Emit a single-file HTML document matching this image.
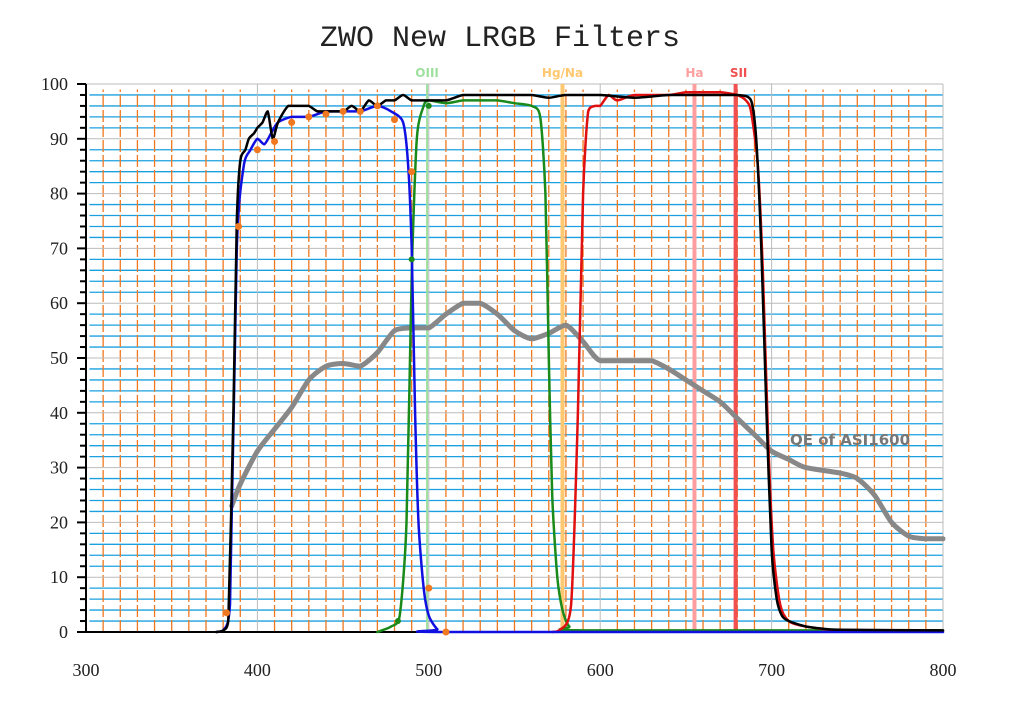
<!DOCTYPE html>
<html><head><meta charset="utf-8"><style>
body{margin:0;background:#fff;width:1024px;height:720px;overflow:hidden}
svg{display:block}
</style></head><body>
<svg id="chart" width="1024" height="720" xmlns="http://www.w3.org/2000/svg">
<text x="500" y="46" text-anchor="middle" font-family="Liberation Mono, monospace" font-size="30" fill="#222">ZWO New LRGB Filters</text>
<g id="grid"></g>
<g id="axes"></g>
<g id="series"></g>
</svg>
<script>
const xTicks=[300,400,500,600,700,800];
const yTicks=[0,10,20,30,40,50,60,70,80,90,100];
const blackX=[376,380,383,386,388,390,393,395,398,400,403,406,409,412,418,425,430,435,440,450,455,460,465,470,475,480,485,490,495,500,510,520,530,540,550,560,570,580,600,620,640,660,680,688,691,694,697,700,703,706,710,720,730,740,800];
const blackY=[0,0.3,2,40,75,86,88,90,91,92,93,95,90,93,96,96,96,95,95,95,96,95,97,96,97,97,98,97,97,97,97,98,98,98,98,98,97.5,98,98,97.5,98,98,98,97,90,70,40,15,6,3,2,1,0.6,0.4,0.3];
const blueX=[376,380,384,388,392,396,400,404,408,412,420,430,440,450,460,470,478,485,488,490,492,494,497,500,505,510,800];
const blueY=[0,0.3,5,70,85,88,90,89,91,93,94,94,95,95,95,96,95,93,85,70,40,20,8,3,0.5,0,0];
const dotX=[382,389,400,410,420,430,440,450,460,470,480,490,500,510];
const dotY=[3.5,74,88,89.5,93,94,94.5,95,95,96,93.5,84,8,0];
const greenX=[470,478,483,487,490,493,497,500,510,520,530,540,550,560,565,568,570,572,575,578,582,590,800];
const greenY=[0,1,3,20,65,90,96,97,96.5,97,97,97,96.5,96,94,80,50,25,10,4,1,0.3,0.3];
const gdotX=[482,490,500];
const gdotY=[2,68,96];
const redX=[572,576,583,587,590,593,597,600,605,610,620,640,650,660,670,680,685,688,692,695,698,701,705,710,720,740,800];
const redY=[0,0.3,5,40,80,95,96,96,98,97,98,98,98.5,98.5,98.5,98,97,95,85,65,35,15,5,2,1,0.3,0.2];
const qeX=[385,390,400,410,420,430,440,450,460,470,480,490,500,510,520,530,540,550,560,570,580,590,600,620,630,640,650,660,670,680,690,700,710,720,740,750,760,770,780,790,800];
const qeY=[23,27,33,37,41,46,48.5,49,48.5,51,55,55.5,55.5,58,60,60,58,55,53.5,54.5,56,53,49.5,49.5,49.5,48,46,44,42,39,36,33,31.5,30,29,28,25,20,17.5,17,17];
const lineNames=["OIII","Hg/Na","Ha","SII"];
const lineNm=[499,578,655,679];
const lineColors=["#9ee09e","#ffc870","#ff9e9e","#f05050"];

const NS="http://www.w3.org/2000/svg";
const X=v=>86+(v-300)*1.714;
const Y=v=>632-v*5.48;
function mk(t,a,p){const e=document.createElementNS(NS,t);for(const k in a)e.setAttribute(k,a[k]);p.appendChild(e);return e;}
const grid=document.getElementById('grid'),axes=document.getElementById('axes'),ser=document.getElementById('series');
for(let v=2;v<100;v+=2){if(v%10==0)continue;const l=mk('line',{x1:X(302),x2:X(800),y1:Y(v),y2:Y(v),stroke:'#1aa0e0','stroke-width':1.3},grid);}
for(let v=310;v<800;v+=10){if(v%100==0)continue;const l=mk('line',{x1:X(v),x2:X(v),y1:Y(0),y2:Y(99),stroke:'#f07820','stroke-width':1.3,'stroke-dasharray':'12 3'},grid);}
for(let v=10;v<=100;v+=10){const l=mk('line',{x1:X(300),x2:X(800),y1:Y(v),y2:Y(v),stroke:'#bbb','stroke-width':1},grid);}
for(let v=400;v<=800;v+=100){const l=mk('line',{x1:X(v),x2:X(v),y1:Y(0),y2:Y(100),stroke:'#bbb','stroke-width':1},grid);}
mk('line',{x1:X(300),x2:X(300),y1:Y(0),y2:Y(100),stroke:'#000','stroke-width':2},axes);
mk('line',{x1:X(300),x2:X(800),y1:Y(0),y2:Y(0),stroke:'#000','stroke-width':2},axes);
for(let v=0;v<=100;v+=2){mk('line',{x1:X(300)-(v%10==0?9:6),x2:X(300),y1:Y(v),y2:Y(v),stroke:'#000','stroke-width':2},axes);}
yTicks.forEach(v=>{const t=mk('text',{x:68,y:Y(v)+6,'text-anchor':'end','font-family':'Liberation Serif, serif','font-size':18,fill:'#222'},axes);t.textContent=v;});
xTicks.forEach(v=>{const t=mk('text',{x:X(v),y:676,'text-anchor':'middle','font-family':'Liberation Serif, serif','font-size':18,fill:'#222'},axes);t.textContent=v;});
lineNm.forEach((v,i)=>{const l=mk('line',{x1:X(v),x2:X(v),y1:Y(0),y2:Y(100),stroke:lineColors[i],'stroke-width':i==0?2:4},ser);
const t=mk('text',{x:X(v)+(i==3?3:0),y:77,'text-anchor':'middle','font-family':'DejaVu Sans, sans-serif','font-weight':'bold','font-size':12,fill:lineColors[i]},ser);t.textContent=lineNames[i];});
function path(xs,ys,col,w,name){
  const P=xs.map((x,i)=>[X(x),Y(ys[i])]);
  let d='M'+P[0][0].toFixed(1)+' '+P[0][1].toFixed(1);
  for(let i=0;i<P.length-1;i++){
    const p0=P[Math.max(0,i-1)],p1=P[i],p2=P[i+1],p3=P[Math.min(P.length-1,i+2)];
    const t=0.12;
    const lo=Math.min(p1[1],p2[1]),hi=Math.max(p1[1],p2[1]);
    const cl=v=>Math.max(lo,Math.min(hi,v));
    const c1=[p1[0]+(p2[0]-p0[0])*t,cl(p1[1]+(p2[1]-p0[1])*t)];
    const c2=[p2[0]-(p3[0]-p1[0])*t,cl(p2[1]-(p3[1]-p1[1])*t)];
    d+=' C'+c1[0].toFixed(1)+' '+c1[1].toFixed(1)+' '+c2[0].toFixed(1)+' '+c2[1].toFixed(1)+' '+p2[0].toFixed(1)+' '+p2[1].toFixed(1);
  }
  const p=mk('path',{d:d,fill:'none',stroke:col,'stroke-width':w,'stroke-linejoin':'round','stroke-linecap':'round'},ser);}
path(qeX,qeY,'#888',5,'qe-curve');
path(greenX,greenY,'#1a8a1a',2.5,'green-filter-curve');
path(redX,redY,'#e01010',2.5,'red-filter-curve');
path(blueX,blueY,'#1010e0',2.5,'blue-filter-curve');
path(blackX,blackY,'#000',2.5,'luminance-filter-curve');
dotX.forEach((x,i)=>{const c=mk('circle',{cx:X(x),cy:Y(dotY[i]),r:3.5,fill:'#f07820'},ser);});
gdotX.forEach((x,i)=>{const c=mk('circle',{cx:X(x),cy:Y(gdotY[i]),r:3,fill:'#1a8a1a'},ser);});
const q=mk('text',{x:790,y:445,'font-family':'DejaVu Sans, sans-serif','font-weight':'bold','font-size':15,fill:'#777'},ser);q.textContent='QE of ASI1600';
</script>
</body></html>
